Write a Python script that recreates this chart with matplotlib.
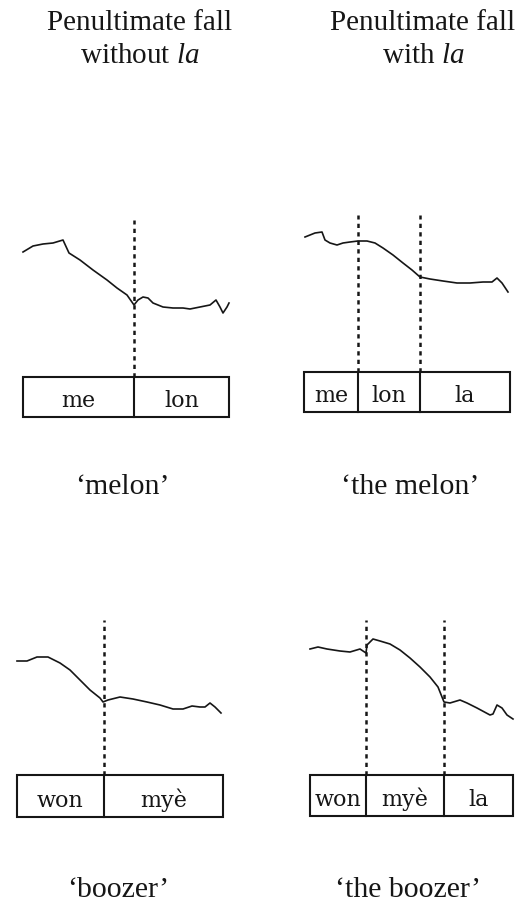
import matplotlib
matplotlib.use("Agg")
import matplotlib.pyplot as plt
from matplotlib.patches import Rectangle

plt.rcParams["mathtext.fontset"] = "custom"
plt.rcParams["mathtext.rm"] = "Liberation Serif"
plt.rcParams["mathtext.it"] = "Liberation Serif:italic"

W, H = 520, 907
SERIF = ["Liberation Serif", "DejaVu Serif"]
BOXFONT = ["DejaVu Serif"]

# Column headings and word glosses
col_titles = [("Penultimate fall", "without ", "la"), ("Penultimate fall", "with ", "la")]
glosses = ["\u2018melon\u2019", "\u2018the melon\u2019", "\u2018boozer\u2019", "\u2018the boozer\u2019"]

# Syllable labels and syllable boundary times (same time units as the contours)
syll_melon = ["me", "lon"]
bounds_melon = [0, 111, 206]
syll_the_melon = ["me", "lon", "la"]
bounds_the_melon = [0, 54, 116, 206]
syll_boozer = ["won", "my\u00e8"]
bounds_boozer = [0, 87, 206]
syll_the_boozer = ["won", "my\u00e8", "la"]
bounds_the_boozer = [0, 56, 134, 203]

# Pitch contours: time and relative pitch
t_melon = [0, 10, 20, 30, 40, 46, 57, 70, 84, 94, 104, 111, 115, 120, 125, 130, 140,
           150, 160, 167, 177, 187, 193, 197, 200, 204, 206]
p_melon = [125, 131, 133, 134, 137, 124, 117, 107, 97, 89, 82, 72, 77, 80, 79, 74, 70,
           69, 69, 68, 70, 72, 77, 70, 64, 70, 74]

t_the_melon = [1, 6, 11, 18, 21, 26, 33, 39, 46, 54, 63, 71, 79, 89, 99, 108, 116, 126,
               139, 153, 166, 179, 188, 193, 198, 204]
p_the_melon = [135, 137, 139, 140, 132, 129, 127, 129, 130, 131, 131, 129, 124, 117, 109,
               102, 95, 93, 91, 89, 89, 90, 90, 94, 89, 80]

t_boozer = [0, 10, 20, 31, 43, 53, 63, 73, 83, 86, 91, 103, 116, 130, 143, 156, 166,
            175, 183, 188, 193, 198, 204]
p_boozer = [114, 114, 118, 118, 112, 105, 95, 85, 77, 73, 75, 78, 76, 73, 70, 66, 66,
            69, 68, 68, 72, 68, 62]

t_the_boozer = [0, 8, 17, 30, 40, 50, 56, 57, 63, 70, 80, 90, 100, 110, 120, 128, 134,
                140, 150, 157, 167, 180, 183, 187, 192, 197, 203]
p_the_boozer = [126, 128, 126, 124, 123, 126, 122, 130, 136, 134, 131, 125, 117, 108, 98,
                88, 73, 72, 75, 72, 67, 60, 61, 70, 67, 60, 56]

panels = [
    # (left px, box top px, box bottom px, dashed top px, labels, bounds, t, p)
    (23, 377, 417, 220, syll_melon, bounds_melon, t_melon, p_melon),
    (304, 372, 412, 215, syll_the_melon, bounds_the_melon, t_the_melon, p_the_melon),
    (17, 775, 817, 620, syll_boozer, bounds_boozer, t_boozer, p_boozer),
    (310, 775, 816, 620, syll_the_boozer, bounds_the_boozer, t_the_boozer, p_the_boozer),
]

INK = "#161616"

fig = plt.figure(figsize=(W / 100, H / 100), dpi=100)
fig.patch.set_facecolor("white")

for left, btop, bbot, dtop, labs, bnds, t, p in panels:
    span = bnds[-1] - bnds[0]
    bh = bbot - btop
    ax = fig.add_axes([left / W, 1 - bbot / H, span / W, (bbot - dtop) / H])
    ax.set_xlim(0, span)
    ax.set_ylim(-bh, btop - dtop)
    ax.axis("off")
    # syllable box
    ax.add_patch(Rectangle((0, -bh), span, bh, fill=False, lw=1.5, ec=INK,
                           clip_on=False))
    for i, lab in enumerate(labs):
        ax.text((bnds[i] + bnds[i + 1]) / 2, -bh + 10, lab, ha="center", va="baseline",
                family=BOXFONT, fontsize=16, color=INK)
    # boundaries: solid inside the box, dashed above it
    for b in bnds[1:-1]:
        ax.plot([b, b], [-bh, 0], color=INK, lw=1.5, clip_on=False)
        ax.plot([b, b], [0, btop - dtop], color=INK, lw=1.8,
                linestyle=(0, (1.7, 1.7)), clip_on=False)
    ax.plot(t, p, color=INK, lw=1.2, clip_on=False)

# column headings
for cx, (l1, l2a, l2b) in zip([140, 423], col_titles):
    fig.text(cx / W, 1 - 30 / H, l1, ha="center", va="baseline", family=SERIF,
             fontsize=21, color=INK)
    fig.text(cx / W, 1 - 63 / H, l2a + "$\\mathit{" + l2b + "}$", ha="center",
             va="baseline", family=SERIF, fontsize=21, color=INK)

# glosses
for (gx, gy), g in zip([(122, 494), (410, 494), (118, 897), (408, 897)], glosses):
    fig.text(gx / W, 1 - gy / H, g, ha="center", va="baseline", family=SERIF,
             fontsize=21.5, color=INK)

fig.savefig("out.png", dpi=100, facecolor="white")
